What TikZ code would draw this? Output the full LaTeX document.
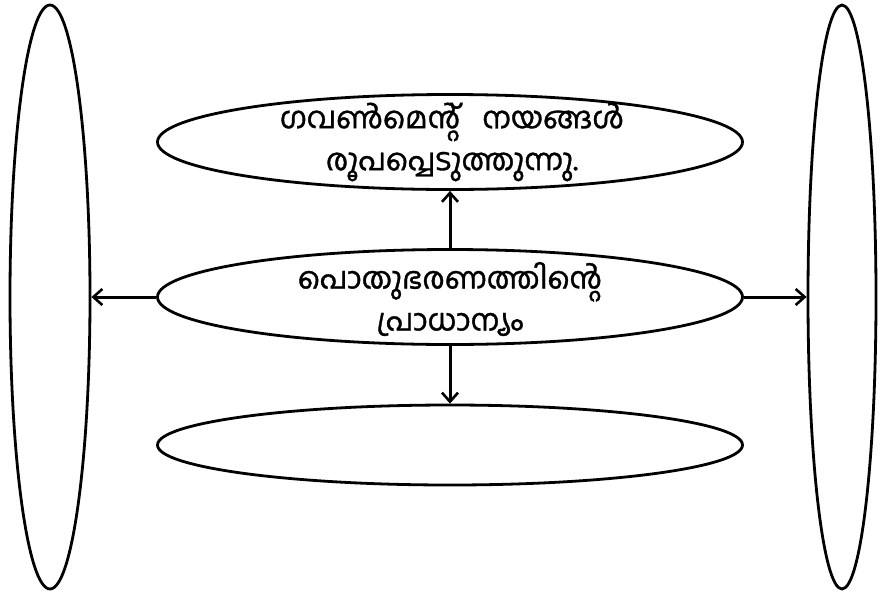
\documentclass[tikz,border=0pt]{standalone}
\usepackage{fontspec}
\newfontfamily\malfont[Script=Malayalam,FakeBold=1.2]{Hind Kochi}
\usetikzlibrary{arrows.meta,shapes.geometric}
\begin{document}
\begin{tikzpicture}[x=1pt,y=-1pt,
  oval/.style={draw,line width=2.8pt,ellipse,inner sep=0pt},
  conn/.style={line width=3pt,-{Straight Barb[length=9pt,width=16pt,line width=2.6pt]}},
  lbl/.style={font=\malfont\fontsize{30}{42}\selectfont,align=center}]
\useasboundingbox (0,0) rectangle (883,595);
\node[oval,minimum width=80pt,minimum height=584pt] (L) at (50,297) {};
\node[oval,minimum width=68pt,minimum height=584pt] (R) at (842,297) {};
\node[oval,minimum width=585pt,minimum height=95pt] (T) at (450,142) {};
\node[oval,minimum width=585pt,minimum height=95pt] (M) at (450,297) {};
\node[oval,minimum width=585pt,minimum height=80pt] (B) at (450,445) {};
\node[lbl] (Tt) at (452,142) {ഗവൺമെന്റ്\hspace{22pt}നയങ്ങൾ\\രൂപപ്പെടുത്തുന്നു.};
\node[lbl] (Mt) at (450,299) {പൊതുഭരണത്തിന്റെ\\പ്രാധാന്യം};
\draw[conn] (M.north) -- (T.south);
\draw[conn] (M.south) -- (B.north);
\draw[conn] (M.west) -- (L.east);
\draw[conn] (M.east) -- (R.west);
\end{tikzpicture}
\end{document}
